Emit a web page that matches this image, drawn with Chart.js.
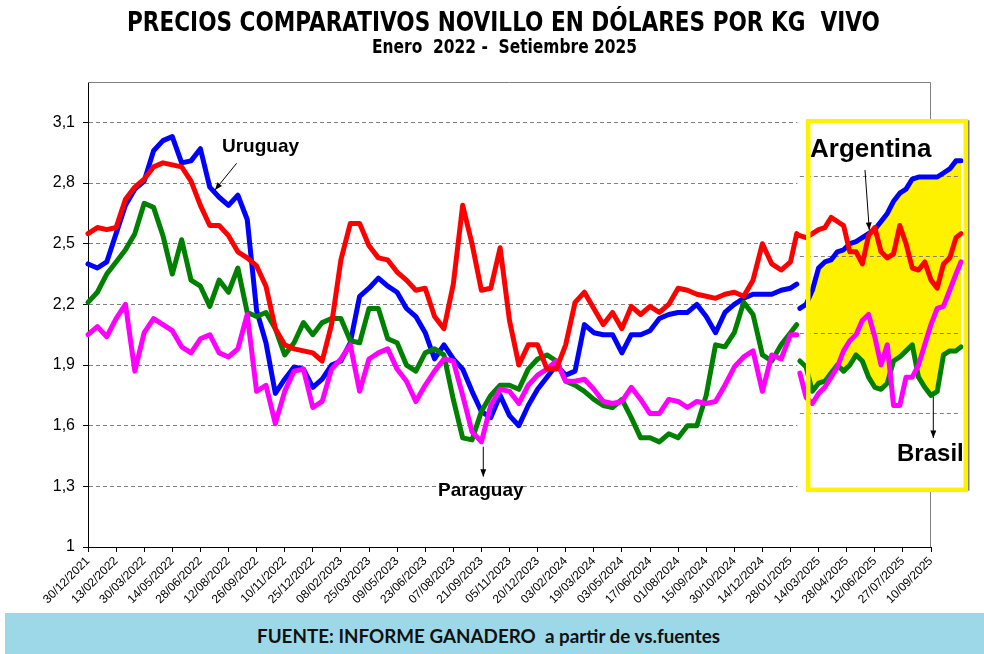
<!DOCTYPE html>
<html lang="es">
<head>
<meta charset="UTF-8">
<title>Precios comparativos novillo</title>
<script src="https://cdn.jsdelivr.net/npm/chart.js"></script>
<style>
  body { margin: 0; background: #fff; }
  #wrap { position: relative; width: 984px; height: 654px; overflow: hidden; }
  canvas { position: absolute; left: 0; top: 0; }
  .fit { position: absolute; white-space: nowrap; transform-origin: left top; font-weight: bold; line-height: 1; color: #000; }
  #title { font-family: 'Liberation Sans Narrow', 'DejaVu Sans Condensed', sans-serif; font-size: 26px; top: 9px; }
  #subtitle { font-family: 'Liberation Sans Narrow', 'DejaVu Sans Condensed', sans-serif; font-size: 19px; top: 37px; }
  #footer { position: absolute; left: 5px; top: 613px; width: 979px; height: 41px; background: #9dd8e8; }
  #source { font-family: Lato, 'Open Sans', sans-serif; font-size: 18px; top: 627px; color: #111; }
</style>
</head>
<body>
<div id="wrap">
  <canvas id="chart" width="984" height="613"></canvas>
  <div id="title" class="fit">PRECIOS COMPARATIVOS NOVILLO EN DÓLARES POR KG&nbsp; VIVO</div>
  <div id="subtitle" class="fit">Enero&nbsp; 2022 -&nbsp; Setiembre 2025</div>
  <div id="footer"></div>
  <div id="source" class="fit">FUENTE: INFORME GANADERO&nbsp; a partir de vs.fuentes</div>
</div>
<script>
// tick labels
const xTickLabels = ['30/12/2021', '13/02/2022', '30/03/2022', '14/05/2022', '28/06/2022', '12/08/2022',
  '26/09/2022', '10/11/2022', '25/12/2022', '08/02/2023', '25/03/2023', '09/05/2023', '23/06/2023',
  '07/08/2023', '21/09/2023', '05/11/2023', '20/12/2023', '03/02/2024', '19/03/2024', '03/05/2024',
  '17/06/2024', '01/08/2024', '15/09/2024', '30/10/2024', '14/12/2024', '28/01/2025', '14/03/2025',
  '28/04/2025', '12/06/2025', '27/07/2025', '10/09/2025'];
const yTicks = [1, 1.3, 1.6, 1.9, 2.2, 2.5, 2.8, 3.1];

// main series: days since 30/12/2021
const mainDays = [0, 15, 30, 45, 60, 75, 90, 105, 120, 135, 150, 165, 180, 195, 210, 225, 240, 255, 270, 285,
  300, 315, 330, 345, 360, 375, 390, 405, 420, 435, 450, 465, 480, 495, 510, 525, 540, 555, 570, 585,
  600, 615, 630, 645, 660, 675, 690, 705, 720, 735, 750, 765, 780, 795, 810, 825, 840, 855, 870, 885,
  900, 915, 930, 945, 960, 975, 990, 1005, 1020, 1035, 1050, 1065, 1080, 1095, 1110, 1125, 1135];

const argentina = [2.55, 2.58, 2.57, 2.58, 2.72, 2.78, 2.82, 2.88, 2.90, 2.89, 2.88, 2.81, 2.69, 2.59, 2.59, 2.54,
  2.46, 2.43, 2.39, 2.29, 2.08, 2.00, 1.98, 1.97, 1.96, 1.92, 2.10, 2.42, 2.60, 2.60, 2.49, 2.43, 2.42, 2.36,
  2.32, 2.27, 2.28, 2.14, 2.08, 2.30, 2.69, 2.50, 2.27, 2.28, 2.48, 2.12, 1.90, 2.00, 2.00, 1.88, 1.88, 2.00,
  2.21, 2.26, 2.18, 2.10, 2.16, 2.08, 2.19, 2.15, 2.19, 2.16, 2.20, 2.28, 2.27, 2.25, 2.24, 2.23, 2.25, 2.26,
  2.24, 2.32, 2.50, 2.40, 2.37, 2.41, 2.55];

const uruguay = [2.40, 2.38, 2.41, 2.55, 2.69, 2.77, 2.81, 2.96, 3.01, 3.03, 2.90, 2.91, 2.97, 2.78, 2.73, 2.69,
  2.74, 2.62, 2.17, 2.01, 1.76, 1.83, 1.89, 1.88, 1.79, 1.83, 1.90, 1.92, 2.01, 2.24, 2.28, 2.33, 2.29, 2.26,
  2.18, 2.14, 2.06, 1.93, 2.00, 1.93, 1.88, 1.77, 1.67, 1.64, 1.75, 1.65, 1.60, 1.70, 1.78, 1.84, 1.90, 1.85,
  1.87, 2.10, 2.06, 2.05, 2.05, 1.96, 2.05, 2.05, 2.07, 2.13, 2.15, 2.16, 2.16, 2.20, 2.14, 2.06, 2.16, 2.20,
  2.23, 2.25, 2.25, 2.25, 2.27, 2.28, 2.30];

const brasil = [2.21, 2.26, 2.35, 2.41, 2.47, 2.55, 2.70, 2.68, 2.54, 2.35, 2.52, 2.32, 2.29, 2.19, 2.32, 2.26,
  2.38, 2.16, 2.14, 2.16, 2.08, 1.95, 2.01, 2.11, 2.05, 2.11, 2.13, 2.13, 2.02, 2.01, 2.18, 2.18, 2.03, 2.01,
  1.90, 1.87, 1.96, 1.98, 1.95, 1.73, 1.54, 1.53, 1.67, 1.75, 1.80, 1.80, 1.78, 1.88, 1.93, 1.95, 1.92, 1.82,
  1.80, 1.77, 1.73, 1.70, 1.69, 1.73, 1.64, 1.54, 1.54, 1.52, 1.56, 1.54, 1.60, 1.60, 1.75, 2.00, 1.99, 2.06,
  2.21, 2.15, 1.95, 1.92, 2.00, 2.06, 2.10];

const paraguay = [2.05, 2.09, 2.04, 2.13, 2.20, 1.87, 2.06, 2.13, 2.10, 2.07, 1.99, 1.96, 2.03, 2.05, 1.96, 1.94,
  1.98, 2.15, 1.77, 1.80, 1.61, 1.77, 1.87, 1.88, 1.69, 1.72, 1.88, 1.93, 2.00, 1.77, 1.93, 1.96, 1.98, 1.88,
  1.82, 1.72, 1.80, 1.87, 1.93, 1.92, 1.75, 1.57, 1.52, 1.70, 1.78, 1.77, 1.71, 1.80, 1.85, 1.88, 1.92, 1.82,
  1.82, 1.83, 1.78, 1.72, 1.71, 1.72, 1.79, 1.73, 1.66, 1.66, 1.73, 1.72, 1.69, 1.72, 1.71, 1.72, 1.80, 1.89,
  1.94, 1.97, 1.77, 1.95, 1.93, 2.05, 2.05];

// inset panel (pasted, yellow frame)
const boxDays = [1140, 1150, 1160, 1170, 1180, 1190, 1200, 1210, 1220, 1230, 1240, 1250, 1260, 1270,
  1280, 1290, 1300, 1310, 1320, 1330, 1340, 1350, 1360, 1370, 1380, 1390, 1398];
const boxArgentina = [2.54, 2.53, 2.55, 2.57, 2.58, 2.63, 2.61, 2.59, 2.46, 2.46, 2.40, 2.54, 2.58, 2.46,
  2.43, 2.45, 2.59, 2.50, 2.38, 2.37, 2.41, 2.32, 2.28, 2.40, 2.43, 2.53, 2.55];
const boxUruguay = [2.18, 2.20, 2.27, 2.38, 2.41, 2.42, 2.46, 2.47, 2.50, 2.51, 2.53, 2.55, 2.57, 2.61,
  2.65, 2.71, 2.75, 2.77, 2.82, 2.83, 2.83, 2.83, 2.83, 2.85, 2.87, 2.91, 2.91];
const boxBrasil = [1.92, 1.89, 1.77, 1.81, 1.82, 1.86, 1.90, 1.87, 1.90, 1.95, 1.92, 1.84, 1.79, 1.78,
  1.81, 1.92, 1.94, 1.97, 2.00, 1.84, 1.79, 1.75, 1.77, 1.95, 1.97, 1.97, 1.99];
const boxParaguay = [1.86, 1.74, 1.71, 1.76, 1.79, 1.84, 1.89, 1.97, 2.02, 2.05, 2.12, 2.15, 2.04, 1.90,
  2.00, 1.70, 1.70, 1.84, 1.84, 1.90, 2.00, 2.10, 2.18, 2.19, 2.27, 2.35, 2.41];
const boxGrid = [2.835, 2.439, 2.059, 1.663];

const RED = '#ff0000', BLUE = '#0000ff', GREEN = '#008000', MAGENTA = '#ff00ff', YELLOW = '#fff200';
const BASE = Date.UTC(2021, 11, 30);
const dayOf = s => { const [d, m, y] = s.split('/').map(Number); return (Date.UTC(y, m - 1, d) - BASE) / 86400000; };
const xTickDays = xTickLabels.map(dayOf);

const series = (days, vals) => days.map((d, i) => ({ x: d, y: vals[i] }));
const line = (label, data, color) => ({
  label, data, borderColor: color, backgroundColor: color, borderWidth: 5,
  pointRadius: 0, tension: 0, fill: false, clip: false, borderJoinStyle: 'round', borderCapStyle: 'round'
});

// panel geometry in data units (days / USD)
const panel = { from: 1136, to: 1409, top: 3.117, bottom: 1.272 };
const frame = { from: 1153.4, to: 1405.6, top: 3.106, bottom: 1.283 };
const notes = [
  { text: 'Uruguay', size: 19, x: 214.6, y: 2.978, arrow: [238, 2.898, 203.4, 2.766] },
  { text: 'Paraguay', size: 19, x: 560.5, y: 1.277, arrow: [633, 1.496, 633, 1.348] },
  { text: 'Argentina', size: 26, x: 1156.3, y: 2.964, arrow: [1244.3, 2.865, 1251.2, 2.568] },
  { text: 'Brasil', size: 24, x: 1295.6, y: 1.46, arrow: [1353.7, 1.743, 1353.7, 1.539] }
];

function arrow(ctx, x1, y1, x2, y2) {
  const ang = Math.atan2(y2 - y1, x2 - x1), h = 8;
  ctx.beginPath(); ctx.moveTo(x1, y1); ctx.lineTo(x2, y2); ctx.stroke();
  ctx.beginPath();
  ctx.moveTo(x2, y2);
  ctx.lineTo(x2 - h * Math.cos(ang - 0.38), y2 - h * Math.sin(ang - 0.38));
  ctx.lineTo(x2 - h * Math.cos(ang + 0.38), y2 - h * Math.sin(ang + 0.38));
  ctx.closePath(); ctx.fill();
}

const decor = {
  id: 'decor',
  beforeDatasetsDraw(chart) {
    const { ctx, chartArea: a, scales: { x, y } } = chart;
    ctx.save();
    // gray top and right border of the plot
    ctx.strokeStyle = '#808080'; ctx.lineWidth = 1;
    ctx.beginPath();
    ctx.moveTo(a.left, a.top + 0.5); ctx.lineTo(a.right - 0.5, a.top + 0.5); ctx.lineTo(a.right - 0.5, a.bottom);
    ctx.stroke();
    // white inset panel
    const L = x.getPixelForValue(panel.from), R = x.getPixelForValue(panel.to);
    const T = y.getPixelForValue(panel.top), B = y.getPixelForValue(panel.bottom);
    ctx.fillStyle = '#fff'; ctx.fillRect(L, T, R - L, B - T);
    // yellow area between Uruguay and Brasil inside the frame
    const fl = x.getPixelForValue(frame.from), fr = x.getPixelForValue(frame.to);
    const ft = y.getPixelForValue(frame.top), fb = y.getPixelForValue(frame.bottom);
    const upper = chart.getDatasetMeta(7).data, lower = chart.getDatasetMeta(5).data;
    ctx.save();
    ctx.beginPath(); ctx.rect(fl, ft, fr - fl, fb - ft); ctx.clip();
    ctx.beginPath();
    upper.forEach((p, i) => i ? ctx.lineTo(p.x, p.y) : ctx.moveTo(p.x, p.y));
    for (let i = lower.length - 1; i >= 0; i--) ctx.lineTo(lower[i].x, lower[i].y);
    ctx.closePath(); ctx.fillStyle = YELLOW; ctx.fill();
    ctx.restore();
    // inset's own dashed grid
    ctx.strokeStyle = '#808080'; ctx.lineWidth = 1; ctx.setLineDash([4, 3]);
    const gx1 = x.getPixelForValue(boxDays[0]), gx2 = x.getPixelForValue(boxDays[boxDays.length - 1]);
    boxGrid.forEach(v => {
      const gy = Math.round(y.getPixelForValue(v)) + 0.5;
      ctx.beginPath(); ctx.moveTo(gx1, gy); ctx.lineTo(gx2, gy); ctx.stroke();
    });
    ctx.restore();
  },
  afterDatasetsDraw(chart) {
    const { ctx, scales: { x, y } } = chart;
    ctx.save();
    const fl = x.getPixelForValue(frame.from), fr = x.getPixelForValue(frame.to);
    const ft = y.getPixelForValue(frame.top), fb = y.getPixelForValue(frame.bottom);
    ctx.strokeStyle = YELLOW; ctx.lineWidth = 4.5;
    ctx.strokeRect(fl, ft, fr - fl, fb - ft);
    ctx.strokeStyle = '#808080'; ctx.lineWidth = 1.5;
    ctx.beginPath(); ctx.moveTo(fr + 3, ft - 1); ctx.lineTo(fr + 3, fb + 1); ctx.stroke();
    // labels and arrows
    ctx.fillStyle = '#000'; ctx.strokeStyle = '#000'; ctx.lineWidth = 1;
    ctx.textBaseline = 'middle'; ctx.textAlign = 'left';
    notes.forEach(n => {
      ctx.font = 'bold ' + n.size + "px 'Liberation Sans', Arial, sans-serif";
      ctx.fillText(n.text, x.getPixelForValue(n.x), y.getPixelForValue(n.y));
      const [x1, y1, x2, y2] = n.arrow;
      arrow(ctx, x.getPixelForValue(x1), y.getPixelForValue(y1), x.getPixelForValue(x2), y.getPixelForValue(y2));
    });
    ctx.restore();
  }
};

new Chart(document.getElementById('chart'), {
  type: 'line',
  data: {
    datasets: [
      line('Argentina', series(mainDays, argentina), RED),
      line('Argentina reciente', series(boxDays, boxArgentina), RED),
      line('Paraguay', series(mainDays, paraguay), MAGENTA),
      line('Paraguay reciente', series(boxDays, boxParaguay), MAGENTA),
      line('Brasil', series(mainDays, brasil), GREEN),
      line('Brasil reciente', series(boxDays, boxBrasil), GREEN),
      line('Uruguay', series(mainDays, uruguay), BLUE),
      line('Uruguay reciente', series(boxDays, boxUruguay), BLUE)
    ]
  },
  options: {
    responsive: false,
    animation: false,
    layout: { padding: { top: 82, right: 53, bottom: 0, left: 0 } },
    plugins: { legend: { display: false }, tooltip: { enabled: false } },
    scales: {
      x: {
        type: 'linear',
        afterFit: s => { s.height = 66; },
        // axis ends at the last dated tick; the inset's lines run past it
        afterBuildTicks: s => {
          s.ticks = xTickDays.map(v => ({ value: v }));
          s.min = xTickDays[0];
          s.max = xTickDays[xTickDays.length - 1];
        },
        grid: { drawOnChartArea: false, tickLength: 5, tickColor: '#000' },
        border: { color: '#000', width: 1 },
        ticks: {
          autoSkip: false, minRotation: 45, maxRotation: 45, padding: 2, color: '#000',
          font: { family: "'Liberation Sans', Arial, sans-serif", size: 12 },
          callback: (v, i) => xTickLabels[i]
        }
      },
      y: {
        min: 1, max: 3.3,
        afterFit: s => { s.width = 88; },
        afterBuildTicks: s => { s.ticks = yTicks.map(v => ({ value: v })); },
        grid: {
          color: c => c.tick && c.tick.value === 1 ? 'rgba(0,0,0,0)' : '#808080',
          tickLength: 5, tickColor: '#000', tickBorderDash: []
        },
        border: { color: '#000', width: 1, dash: [4, 3] },
        ticks: {
          padding: 8, color: '#000',
          font: { family: "'Liberation Sans Narrow', 'Liberation Sans', sans-serif", size: 16 },
          callback: v => String(v).replace('.', ',')
        }
      }
    }
  },
  plugins: [decor]
});

// stretch header/footer texts to the widths they occupy in the original
function fitText(id, left, right) {
  const el = document.getElementById(id);
  const w = el.getBoundingClientRect().width;
  el.style.left = left + 'px';
  el.style.transform = 'scaleX(' + ((right - left) / w) + ')';
}
fitText('title', 127, 880);
fitText('subtitle', 372, 637);
fitText('source', 257, 720);
</script>
</body>
</html>
